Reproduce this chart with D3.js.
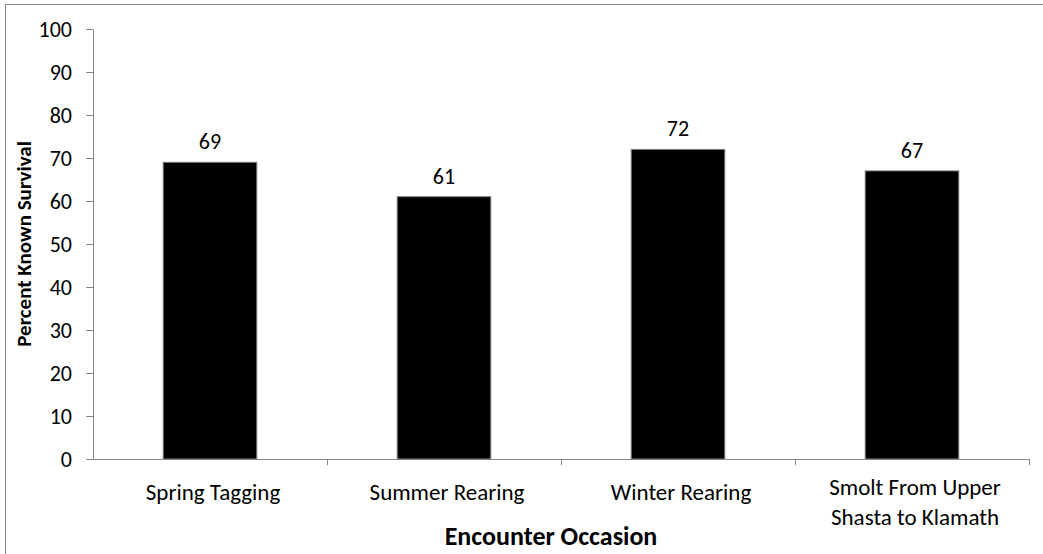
<!DOCTYPE html>
<meta charset="utf-8">
<style>
    body { margin: 0; background: #fff; }
    text { font-family: Carlito, Lato, "Liberation Sans", sans-serif; fill: #000; }
    .axis path, .axis line { stroke: #868686; }
    .axis text { font-size: 22px; }
    .bar { fill: #000; stroke: #7f7f7f; stroke-width: 1px; }
    .value { font-size: 22px; text-anchor: middle; }
    .title { font-weight: bold; text-anchor: middle; }
</style>
<body>
    <script src="https://d3js.org/d3.v7.min.js"></script>
    <script>

        // chart values
        var categories = ["Spring Tagging", "Summer Rearing", "Winter Rearing", "Smolt From Upper|Shasta to Klamath"];
        var survival = [69, 61, 72, 67];
        var yTicks = [0, 10, 20, 30, 40, 50, 60, 70, 80, 90, 100];

        // set the dimensions and margins of the graph
        var margin = {top: 29, right: 14, bottom: 95, left: 93},
            width = 1043 - margin.left - margin.right,
            height = 554 - margin.top - margin.bottom;

        var svg = d3.select("body")
            .append("svg")
            .attr("width", 1043)
            .attr("height", 554);

        // chart border
        svg.append("rect")
            .attr("x", 5.5)
            .attr("y", 4.5)
            .attr("width", 1060)
            .attr("height", 580)
            .attr("fill", "none")
            .attr("stroke", "#868686");

        var g = svg.append("g")
            .attr("transform", "translate(" + margin.left + "," + margin.top + ")");

        // set the ranges
        var x = d3.scaleBand()
            .domain(categories)
            .range([0, width])
            .paddingInner(0.6)
            .paddingOuter(0.3);
        var y = d3.scaleLinear().domain([0, 100]).range([height, 0]);

        // boundaries between categories for the x ticks
        var bounds = d3.range(categories.length + 1).map(function(i) { return i * width / categories.length; });

        // bars
        g.selectAll(".bar")
            .data(survival)
            .enter().append("rect")
            .attr("class", "bar")
            .attr("x", function(d, i) { return x(categories[i]); })
            .attr("width", x.bandwidth())
            .attr("y", function(d) { return y(d); })
            .attr("height", function(d) { return height - y(d); });

        // value labels
        g.selectAll(".value")
            .data(survival)
            .enter().append("text")
            .attr("class", "value")
            .attr("x", function(d, i) { return x(categories[i]) + x.bandwidth() / 2; })
            .attr("y", function(d) { return y(d) - 13; })
            .text(function(d) { return d; });

        // Y axis
        g.append("g")
            .attr("class", "axis")
            .call(d3.axisLeft(y).tickValues(yTicks).tickSize(7).tickPadding(14).tickSizeOuter(0));

        // X axis line with ticks at category boundaries
        var xb = d3.scaleLinear().domain([0, width]).range([0, width]);
        g.append("g")
            .attr("class", "axis")
            .attr("transform", "translate(0," + height + ")")
            .call(d3.axisBottom(xb).tickValues(bounds.slice(1)).tickSize(6).tickSizeOuter(0).tickFormat(""));

        // X category labels
        var labels = g.selectAll(".xlabel")
            .data(categories)
            .enter().append("text")
            .attr("class", "xlabel")
            .attr("text-anchor", "middle")
            .style("font-size", "23px")
            .attr("transform", function(d) {
                return "translate(" + (x(d) + x.bandwidth() / 2 + 3) + "," + (height + 41) + ")";
            });
        labels.each(function(d) {
            var parts = d.split("|");
            var t = d3.select(this);
            var y0 = parts.length > 1 ? -5 : 0;
            parts.forEach(function(p, i) {
                t.append("tspan").attr("x", 0).attr("y", y0 + i * 30).text(p);
            });
        });

        // axis titles
        g.append("text")
            .attr("class", "title")
            .style("font-size", "26px")
            .attr("x", width / 2 - 10)
            .attr("y", height + 86)
            .text("Encounter Occasion");

        g.append("text")
            .attr("class", "title")
            .style("font-size", "21px")
            .attr("transform", "translate(" + (-62) + "," + (height / 2) + ") rotate(-90)")
            .text("Percent Known Survival");

    </script>
</body>
